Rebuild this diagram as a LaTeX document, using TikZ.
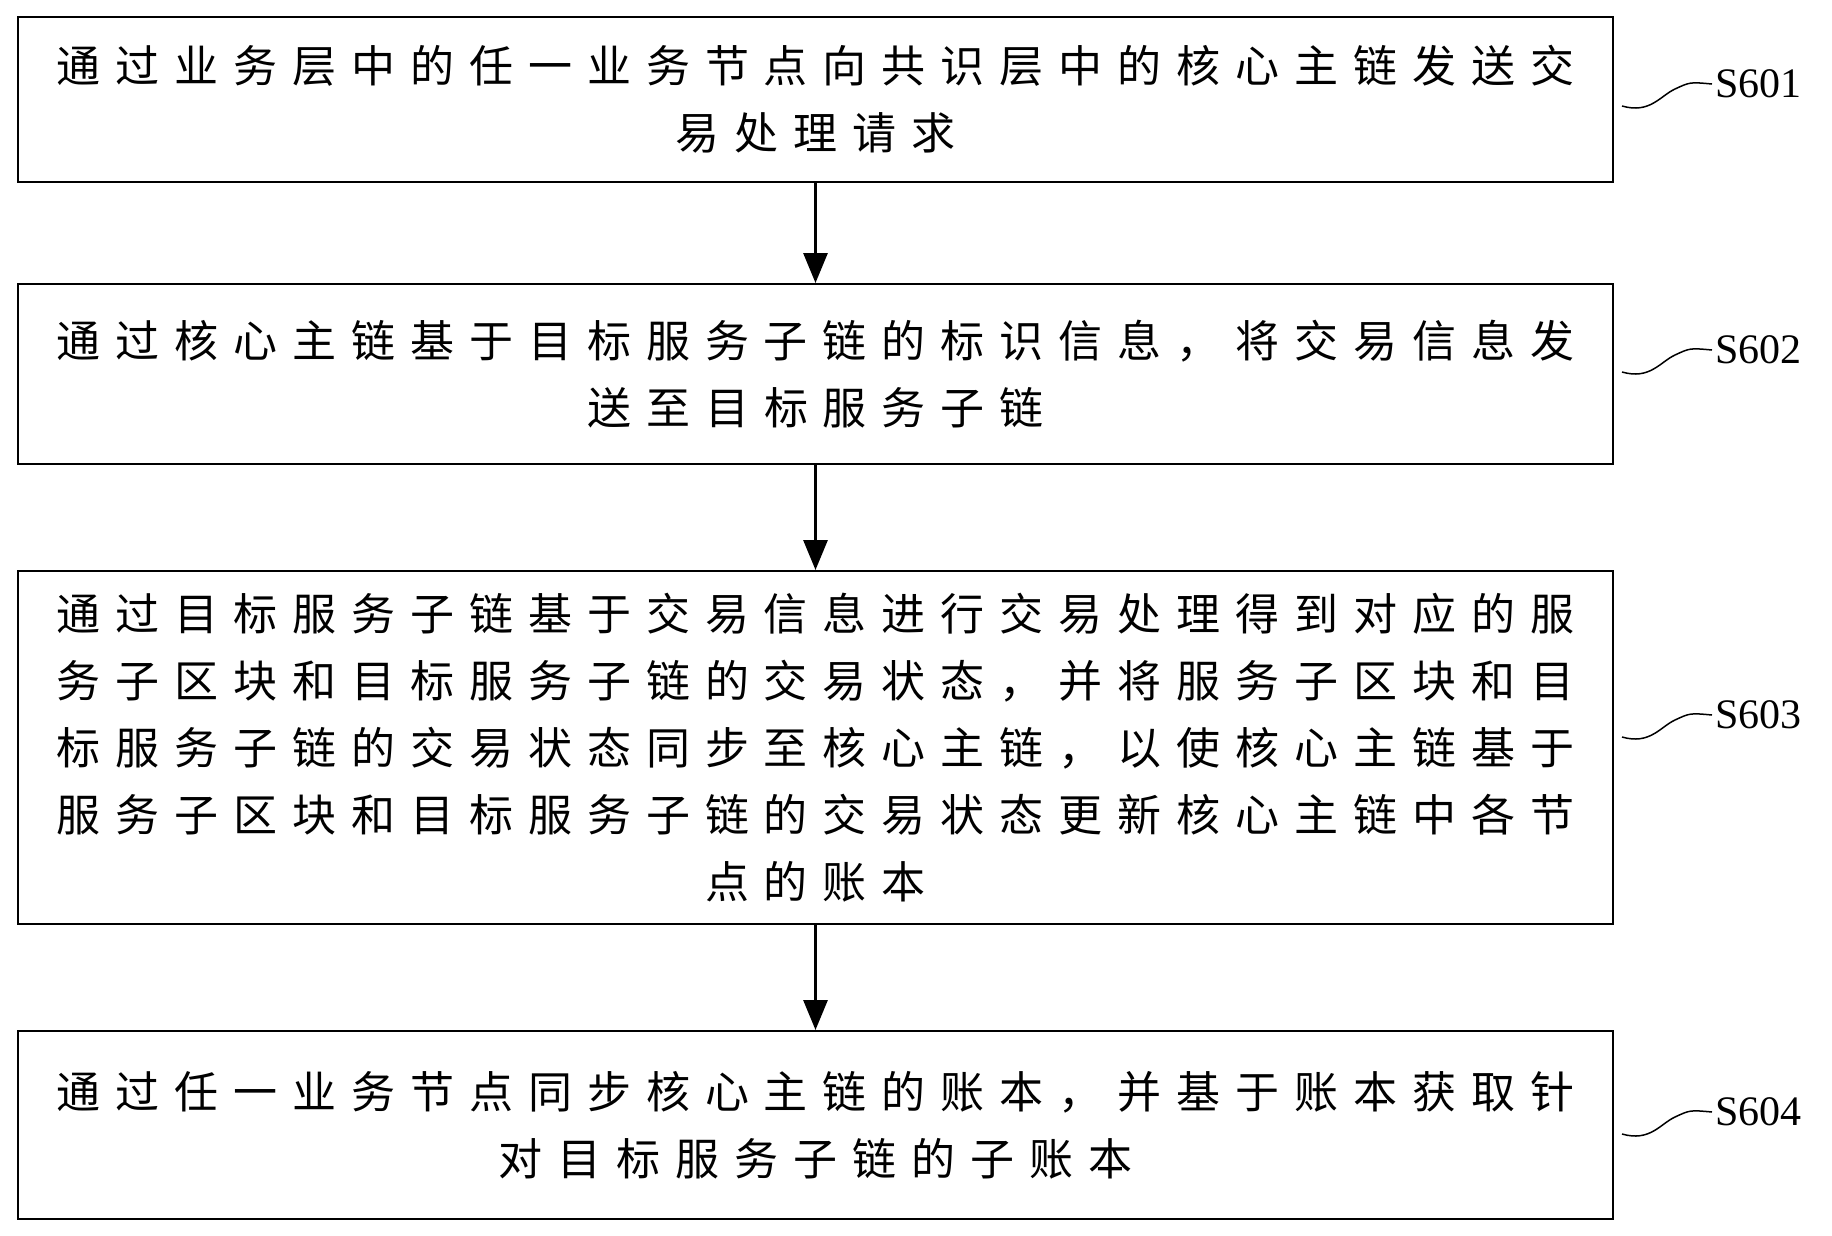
\documentclass[tikz,border=0pt]{standalone}
\usepackage{fontspec}
\newfontfamily\cjk[LetterSpace=34]{Noto Sans CJK SC}
\setmainfont{Liberation Serif}
\usetikzlibrary{arrows.meta}
\begin{document}
\begin{tikzpicture}[x=1pt,y=-1pt,
  stepbox/.style={draw,line width=2pt,minimum width=1595pt,anchor=north west,align=center,font=\cjk\fontsize{44}{67}\selectfont,inner sep=0pt},
  arr/.style={line width=3pt,-{Triangle[length=30pt,width=24pt]}},
  lab/.style={font=\fontsize{42}{48}\selectfont,anchor=west},
  wav/.style={line width=1.5pt}]
\useasboundingbox (0,0) rectangle (1832,1235);
\node[stepbox,minimum height=165pt] (b1) at (17,16) {通过业务层中的任一业务节点向共识层中的核心主链发送交\\易处理请求};
\node[stepbox,minimum height=180pt] (b2) at (17,283) {通过核心主链基于目标服务子链的标识信息，将交易信息发\\送至目标服务子链};
\node[stepbox,minimum height=353pt] (b3) at (17,570) {通过目标服务子链基于交易信息进行交易处理得到对应的服\\务子区块和目标服务子链的交易状态，并将服务子区块和目\\标服务子链的交易状态同步至核心主链，以使核心主链基于\\服务子区块和目标服务子链的交易状态更新核心主链中各节\\点的账本};
\node[stepbox,minimum height=188pt] (b4) at (17,1030) {通过任一业务节点同步核心主链的账本，并基于账本获取针\\对目标服务子链的子账本};
\draw[arr] (b1.south) -- (b2.north);
\draw[arr] (b2.south) -- (b3.north);
\draw[arr] (b3.south) -- (b4.north);
\foreach \b/\t/\y in {b1/S601/84,b2/S602/350,b3/S603/715,b4/S604/1112}{
  \node[lab] (l\b) at (1712,\y) {\t};
  \coordinate (c\b) at (1622,\y+22);
  \draw[wav] (c\b) .. controls (1650,\y+30) and (1660,\y+12) .. (1675,\y+5) .. controls (1690,\y-2) .. (l\b.west);
}
\end{tikzpicture}
\end{document}
